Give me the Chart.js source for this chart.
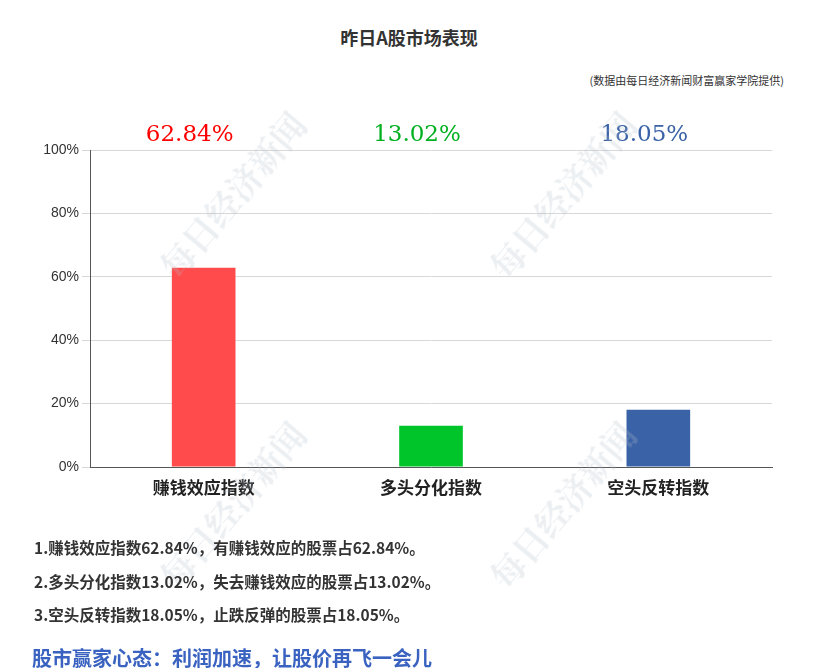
<!DOCTYPE html>
<html><head><meta charset="utf-8">
<script src="https://cdn.jsdelivr.net/npm/chart.js@4/dist/chart.umd.min.js"></script>
<style>
body{margin:0;width:818px;height:668px;background:#fff;font-family:"Noto Sans CJK SC",sans-serif;position:relative;overflow:hidden}
#wrap{position:absolute;left:0;top:0;width:818px;height:500px}
.t{position:absolute;white-space:nowrap}
.wm{position:absolute;color:rgba(180,190,205,0.25);font-size:34px;font-weight:bold;transform:rotate(-50deg);font-family:"Noto Serif CJK SC","Noto Sans CJK SC"}
</style></head><body>
<div class="t" style="left:0;width:818px;text-align:center;top:24px;font-size:18px;font-weight:bold;color:#333">昨日A股市场表现</div>
<div class="t" style="right:34px;top:72px;font-size:11px;color:#333">(数据由每日经济新闻财富赢家学院提供)</div>
<div id="wrap"><canvas id="c"></canvas></div>
<div class="wm" style="left:130px;top:170px">每日经济新闻</div>
<div class="wm" style="left:460px;top:170px">每日经济新闻</div>
<div class="wm" style="left:130px;top:480px">每日经济新闻</div>
<div class="wm" style="left:460px;top:480px">每日经济新闻</div>
<div class="t" style="left:34px;top:536px;font-size:15.5px;font-weight:bold;color:#333">1.赚钱效应指数62.84%，有赚钱效应的股票占62.84%。</div>
<div class="t" style="left:34px;top:570px;font-size:15.5px;font-weight:bold;color:#333">2.多头分化指数13.02%，失去赚钱效应的股票占13.02%。</div>
<div class="t" style="left:34px;top:603px;font-size:15.5px;font-weight:bold;color:#333">3.空头反转指数18.05%，止跌反弹的股票占18.05%。</div>
<div class="t" style="left:32px;top:643px;font-size:20px;font-weight:bold;color:#3a62c0">股市赢家心态：利润加速，让股价再飞一会儿</div>
<script>
const categories = ['赚钱效应指数', '多头分化指数', '空头反转指数'];
const values = [62.84, 13.02, 18.05];
const barColors = ['#ff4b4b', '#00c52a', '#3a62a7'];
const labelColors = ['#ff0000', '#00b020', '#3a62a7'];

const topLabels = {
    id: 'topLabels',
    afterDatasetsDraw(chart) {
        const ctx = chart.ctx;
        const meta = chart.getDatasetMeta(0);
        ctx.save();
        ctx.font = '23px "DejaVu Serif", serif';
        ctx.textAlign = 'center';
        ctx.textBaseline = 'middle';
        meta.data.forEach((bar, i) => {
            ctx.fillStyle = labelColors[i];
            ctx.fillText(values[i].toFixed(2) + '%', bar.x - 14, 135);
        });
        ctx.restore();
    }
};

new Chart(document.getElementById('c'), {
    type: 'bar',
    data: {
        labels: categories,
        datasets: [{ data: values, backgroundColor: barColors, barPercentage: 0.56, categoryPercentage: 0.5 }]
    },
    options: {
        responsive: true, maintainAspectRatio: false, animation: false,
        layout: { padding: { top: 150, right: 46, left: 0, bottom: 0 } },
        plugins: { legend: { display: false }, tooltip: { enabled: false } },
        scales: {
            x: {
                grid: { display: false },
                border: { color: '#555' },
                ticks: { color: '#222', font: { size: 17, weight: 'bold', family: '"Noto Sans CJK SC"' }, padding: 2 },
                afterFit(a) { a.height = 33; }
            },
            y: {
                min: 0, max: 100,
                ticks: { stepSize: 20, color: '#333', font: { size: 14 }, callback: v => v + '%' },
                grid: { color: '#d8d8d8' },
                border: { color: '#555' },
                afterFit(a) { a.width = 90; }
            }
        }
    },
    plugins: [topLabels]
});
</script>
</body></html>
